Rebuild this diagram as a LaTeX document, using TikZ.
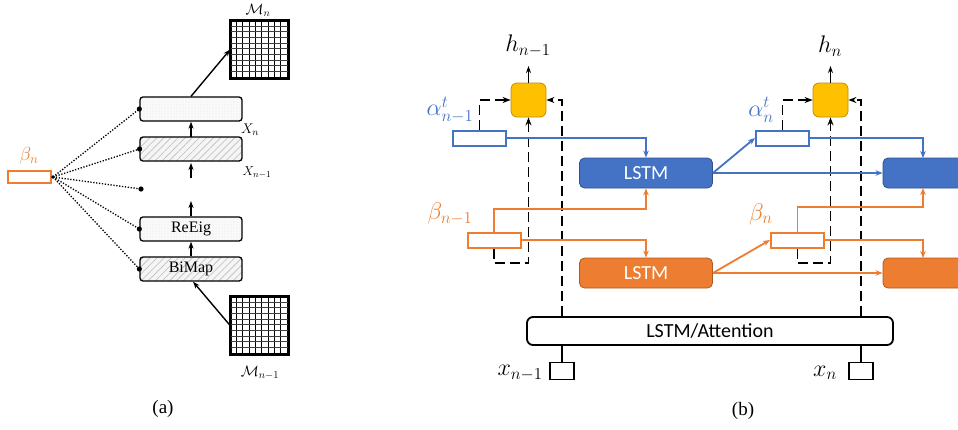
\RequirePackage{fix-cm}
\documentclass[tikz,border=0pt]{standalone}
\usepackage{fontspec}
\setmainfont{Liberation Serif}
\newfontfamily\calfont{Carlito}
\usetikzlibrary{arrows.meta,patterns,patterns.meta,calc}
\definecolor{oblue}{HTML}{4472C4}
\definecolor{oblueD}{HTML}{2F528F}
\definecolor{oorange}{HTML}{ED7D31}
\definecolor{oorangeD}{HTML}{AE5A21}
\definecolor{oyellow}{HTML}{FFC000}
\definecolor{oyellowD}{HTML}{BF9000}
\begin{document}
\begin{tikzpicture}[x=1pt,y=-1pt,
  abox/.style={draw, line width=1.3pt, rounded corners=3pt, minimum width=102pt, minimum height=24pt, inner sep=0pt, font=\fontsize{16}{18}\selectfont},
  hatchbox/.style={abox, preaction={fill=gray!8}, pattern={Lines[angle=45,distance=5pt,line width=0.8pt]}, pattern color=gray!45},
  dotbox/.style={abox, preaction={fill=gray!4}, pattern={Dots[distance=3pt,radius=0.45pt]}, pattern color=gray!45},
  gridbox/.style={draw, line width=1.7pt, minimum size=57pt, inner sep=0pt},
  arr/.style={line width=1.4pt, -{Stealth[length=7pt,width=5pt]}},
  fanline/.style={line width=1.3pt, dash pattern=on 1.3pt off 1.6pt},
  lab/.style={inner sep=0pt},
  lstmB/.style={draw=oblueD, fill=oblue, rounded corners=5pt, minimum width=133pt, minimum height=30pt, line width=0.8pt, text=white, font=\calfont\fontsize{20}{24}\selectfont},
  lstmO/.style={lstmB, draw=oorangeD, fill=oorange},
  gate/.style={draw=oyellowD, fill=oyellow, rounded corners=6pt, minimum width=35pt, minimum height=34pt, line width=0.8pt},
  vecB/.style={draw=oblue, fill=white, line width=2pt, minimum width=53pt, minimum height=15pt, inner sep=0pt},
  vecO/.style={vecB, draw=oorange},
  xbox/.style={draw, fill=white, line width=1.8pt, minimum width=24pt, minimum height=17pt, inner sep=0pt},
  dsh/.style={line width=1.8pt, dash pattern=on 10pt off 5pt},
  dsha/.style={dsh, -{Stealth[length=8pt,width=6pt]}},
  bl/.style={draw=oblue, line width=1.8pt, -{Stealth[length=7pt,width=5.5pt]}},
  ol/.style={draw=oorange, line width=1.8pt, -{Stealth[length=7pt,width=5.5pt]}},
  bigfont/.style={font=\fontsize{24}{26}\selectfont}
]
\clip (0,0) rectangle (958,429);
\fill[white] (0,0) rectangle (958,429);

% ---------------- (a) ----------------
\node[dotbox] (top) at (191,109) {};
\node[hatchbox] (hatch) at (191,149) {};
\coordinate (lone) at (141,189);
\node[dotbox] (reeig) at (191,229) {ReEig};
\node[hatchbox] (bimap) at (191,269) {BiMap};

\node[gridbox] (gridn) at (259.5,49.5) {};
\node[gridbox] (gridp) at (259.5,325.5) {};
\foreach \g in {gridn,gridp}{
  \foreach \i in {1,...,8}
    \draw[line width=0.9pt] ($(\g.north west)+(\i*6.33,0)$) -- ($(\g.south west)+(\i*6.33,0)$);
  \foreach \j in {1,...,9}
    \draw[line width=0.6pt, black!75] ($(\g.north west)+(0,\j*5.7)$) -- ($(\g.north east)+(0,\j*5.7)$);
  \draw[line width=1.7pt] (\g.north west) rectangle (\g.south east);
}
\node[lab, font=\fontsize{15}{17}\selectfont] (mnl) at (258,10.5) {$\mathcal{M}_n$};
\node[lab, font=\fontsize{15}{17}\selectfont] (mpl) at (260,373) {$\mathcal{M}_{n-1}$};
\node[lab, font=\fontsize{14}{16}\selectfont] (xnl) at (250,130) {$X_n$};
\node[lab, font=\fontsize{13}{15}\selectfont] (xpl) at (257,172) {$X_{n-1}$};

\draw[arr] (gridp.west) -- ($(bimap.south)+(2,0)$);
\draw[arr] (top.north) -- (gridn.west);
\draw[arr] (hatch.north) -- (top.south);
\coordinate (xin) at (191,178);
\draw[arr, shorten >=1.5pt] (xin) -- (hatch.south);
\draw[arr] (bimap.north) -- (reeig.south);
\coordinate (xout) at (191,201);
\draw[arr] (reeig.north) -- (xout);

\node[draw=oorange, fill=white, line width=2pt, minimum width=43pt, minimum height=12pt, inner sep=0pt] (borect) at (29,177) {};
\node[lab, text=oorange, font=\fontsize{19}{21}\selectfont] (bnl) at (29,156) {$\beta_n$};
\coordinate (fan) at (53,177);
\foreach \e in {top.west,hatch.west,lone,reeig.west,bimap.west}{
  \draw[fanline] (fan) -- (\e);
  \fill (\e) circle (2.6pt);
}
\fill (fan) circle (1.8pt);

\node[lab, font=\fontsize{19}{21}\selectfont] (capa) at (163,409) {(a)};

% ---------------- (b) ----------------
\node[gate] (ya) at (528.5,100) {};
\node[gate] (yb) at (830.5,100) {};
\node[lab, bigfont] (hal) at (528,46) {$h_{n-1}$};
\node[lab, bigfont] (hbl) at (830,46) {$h_n$};
\coordinate (hao) at (528.5,66);
\coordinate (hbo) at (830.5,66);
\draw[arr] (ya.north) -- (hao);
\draw[arr] (yb.north) -- (hbo);

\node[lstmB] (L1) at (646,173) {LSTM};
\node[lstmO] (L2) at (646,273) {LSTM};
\node[lstmB] (L3) at (949.5,173) {};
\node[lstmO] (L4) at (949.5,273) {};
\coordinate (L3in) at (923,158);
\coordinate (L3bot) at (923,188);
\coordinate (L4in) at (923,258);

\node[vecB] (a1) at (479.5,138) {};
\node[vecB] (a2) at (782.5,138) {};
\node[vecO] (b1) at (494,240) {};
\node[vecO] (b2) at (797.5,240) {};
\node[lab, text=oblue, bigfont] (a1l) at (450,110) {$\alpha_{n-1}^t$};
\node[lab, text=oblue, bigfont] (a2l) at (761,110) {$\alpha_{n}^t$};
\node[lab, text=oorange, bigfont] (b1l) at (450,214) {$\beta_{n-1}$};
\node[lab, text=oorange, bigfont] (b2l) at (761,214) {$\beta_{n}$};

\node[draw, line width=1.8pt, rounded corners=6pt, minimum width=366pt, minimum height=28pt, fill=white, font=\calfont\fontsize{20}{24}\selectfont] (att) at (710,331) {LSTM/Attention};
\node[xbox] (xs1) at (562,371) {};
\node[xbox] (xs2) at (861,371) {};
\node[lab, bigfont] (x1l) at (520,373) {$x_{n-1}$};
\node[lab, bigfont] (x2l) at (825,373) {$x_n$};
\draw[line width=1.8pt] (att.south -| xs1.north) -- (xs1.north);
\draw[line width=1.8pt] (att.south -| xs2.north) -- (xs2.north);

% dashed connections
\draw[dsha] (a1.north) |- (ya.west);
\draw[dsha] (a2.north) |- (yb.west);
\draw[dsha] (b1.south) -- ++(0,14.5) -| (ya.south);
\draw[dsha] (b2.south) -- ++(0,14.5) -| (yb.south);
\draw[dsha] (att.north -| xs1.north) |- (ya.east);
\draw[dsha] (att.north -| xs2.north) |- (yb.east);

% blue connections
\draw[bl] (a1.east) -| (L1.north);
\draw[bl] (L1.east) -- (a2.west);
\draw[bl] (L1.east) -- (L1.east -| L3.west);
\draw[bl] (a2.east) -| (L3in);

% orange connections
\draw[ol] (b1.north) -- ++(0,-22.5) -| (L1.south);
\draw[ol] (b1.east) -| (L2.north);
\draw[ol] (b2.north) -- ++(0,-24.5) -| (L3bot);
\draw[ol] (b2.east) -| (L4in);
\draw[ol] (L2.east) -- (b2.west);
\draw[ol] (L2.east) -- (L2.east -| L4.west);

\node[lab, font=\fontsize{19}{21}\selectfont] (capb) at (743,411) {(b)};
\end{tikzpicture}
\end{document}
